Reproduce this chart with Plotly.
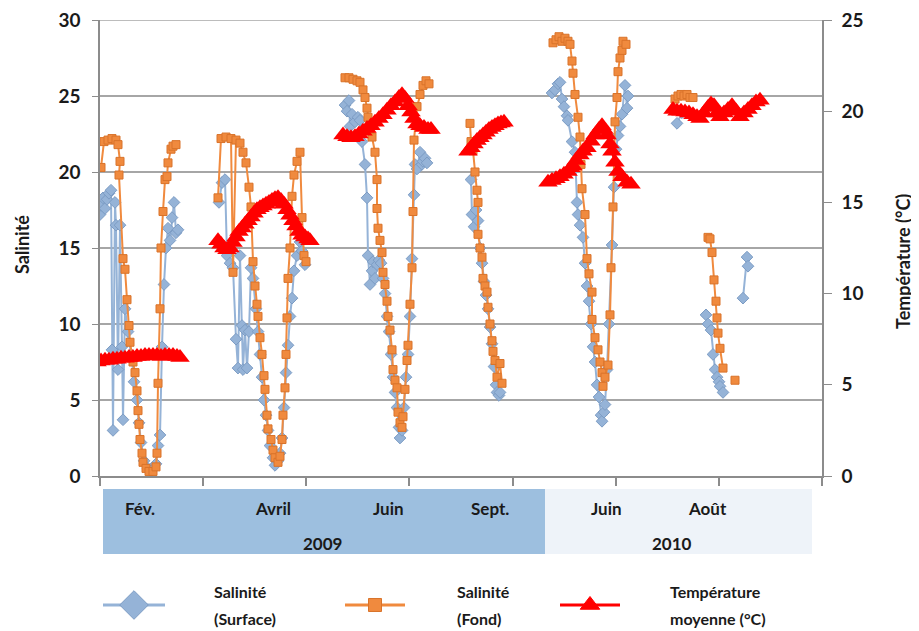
import plotly.graph_objects as go

# ---------------- data (x = position along the sampling axis) ----------------
# Salinité (Surface)
surf_x = [100,101,103,105,107,109,111,112,113,115,116,118,120,122,123,125,128,131,134,137,139,141,144,148,152,156,158,160,162,164,166,168,170,172,174,176,178,None,
          219,222,225,227,230,233,236,238,240,242,243,245,247,249,251,253,256,258,260,262,264,266,268,270,273,275,278,280,282,284,286,288,290,292,294,297,300,302,305,None,
          345,347,349,350,352,355,358,360,362,365,367,368,370,372,373,375,377,379,381,383,385,387,389,391,393,395,397,399,400,402,404,406,408,410,412,414,415,417,420,422,423,425,427,None,
          471,472,474,476,478,480,482,484,486,488,490,492,494,496,497,499,500,None,
          552,555,558,560,562,564,567,568,572,575,577,578,580,583,585,587,589,591,593,595,597,599,601,602,604,605,607,609,612,614,616,618,620,622,625,627,628,None,
          677,682,None,
          706,708,711,713,715,717,719,720,723,None,
          743,747,748]
surf_y = [17.2,17.8,18.3,17.6,18.2,18.6,18.8,8.3,3.0,18.0,16.5,7.0,16.5,8.5,3.7,11.0,9.5,8.0,6.2,5.0,3.5,2.2,1.0,0.5,0.4,0.8,2.0,2.7,8.5,12.6,15.0,16.3,15.5,17.0,18.0,16.0,16.2,None,
          18.0,19.3,19.5,14.5,14.0,13.7,9.0,7.1,14.5,9.9,7.0,9.6,7.1,9.5,13.7,13.0,11.0,9.5,8.0,6.5,5.0,4.0,3.0,2.0,1.2,0.7,1.0,1.5,2.5,4.5,6.8,8.6,10.5,11.7,13.5,14.5,15.4,14.8,13.9,None,
          24.4,24.0,24.7,23.0,23.8,23.3,23.6,23.4,22.0,20.5,18.3,14.5,12.6,13.5,14.1,13.0,13.9,14.2,14.0,13.0,12.0,10.5,9.5,8.0,6.5,5.5,4.5,3.2,2.5,3.0,4.5,6.5,8.0,10.5,14.3,18.5,20.5,20.2,21.3,20.5,20.7,20.9,20.6,None,
          19.5,17.2,16.4,17.5,16.8,15.0,14.0,12.8,11.9,11.0,9.8,8.7,7.2,6.0,5.5,5.3,5.5,None,
          25.2,25.4,25.8,25.9,24.8,24.3,23.7,23.4,22.0,21.3,18.0,17.2,16.5,15.7,14.0,12.5,11.5,10.0,8.5,7.5,6.0,5.2,4.0,3.6,4.2,4.7,7.0,10.0,15.2,19.0,21.5,22.4,23.0,23.8,25.7,24.2,25.0,None,
          23.2,23.9,None,
          10.6,10.0,9.6,8.0,7.0,6.5,6.2,5.9,5.5,None,
          11.7,14.4,13.8]

# Salinité (Fond)
fond_x = [101,104,108,112,116,118,120,119,123,125,127,129,130,133,135,137,138,139,140,142,143,146,149,153,156,157,158,160,161,163,165,167,168,171,173,176,None,
          218,221,226,231,233,236,240,243,246,249,251,253,255,257,258,260,262,264,265,267,268,271,273,275,278,280,282,283,285,286,287,288,290,292,294,297,300,302,304,306,None,
          345,349,353,357,360,363,365,367,368,370,372,375,377,377,378,380,382,383,385,387,388,390,392,393,395,397,398,400,402,403,405,407,408,410,412,413,414,417,420,423,426,429,None,
          470,471,473,475,477,478,478,480,482,483,485,487,488,490,492,493,495,497,500,502,None,
          553,556,559,562,565,568,570,572,573,575,578,580,581,582,585,587,589,592,592,595,598,600,602,603,605,608,610,611,613,615,617,618,620,622,623,626,None,
          675,678,681,684,687,690,693,None,
          708,710,712,714,716,717,718,720,723,None,
          735]
fond_y = [20.3,22.0,22.1,22.2,22.1,21.8,20.7,19.8,14.3,13.6,11.6,9.9,8.8,7.5,6.8,5.6,4.3,3.4,2.4,1.5,0.9,0.5,0.3,0.3,0.6,1.5,6.1,11.0,15.0,17.4,19.5,19.7,20.6,21.5,21.7,21.8,None,
          18.3,22.2,22.3,22.2,13.4,22.1,21.9,21.3,20.6,19.0,17.7,14.1,12.5,11.3,10.5,9.1,8.0,6.6,5.7,4.0,3.1,2.4,1.7,1.2,0.9,1.3,2.4,4.0,5.8,8.0,10.4,13.0,15.0,18.4,19.8,20.7,21.3,17.0,14.5,14.1,None,
          26.2,26.2,26.1,26.0,25.9,25.4,24.9,24.2,23.6,22.8,22.3,21.3,19.5,17.6,16.3,15.5,14.7,13.4,12.6,11.5,10.5,9.6,8.3,7.0,6.3,5.8,4.2,3.5,3.2,3.9,5.7,7.6,8.6,11.3,13.7,17.4,22.1,24.3,25.1,25.7,26.0,25.8,None,
          23.2,22.0,21.4,20.0,18.8,18.0,15.9,15.0,14.4,13.0,12.5,12.1,11.1,10.0,8.9,8.2,7.6,6.5,7.4,6.1,None,
          28.5,28.7,28.9,28.6,28.8,28.6,28.4,27.3,26.5,25.1,23.6,22.3,20.5,18.9,17.2,14.3,13.3,12.1,10.3,9.1,8.3,7.5,6.8,5.9,6.5,7.3,10.6,13.7,17.7,23.3,24.9,26.6,27.5,28.0,28.6,28.4,None,
          24.8,25.0,25.1,25.0,25.1,24.9,24.9,None,
          15.7,15.6,14.7,12.9,11.5,10.4,9.4,8.4,7.1,None,
          6.3]

# Température moyenne (°C)
temp_x = [97,101,105,109,113,117,121,125,129,133,137,141,145,149,153,157,161,165,169,173,177,180,None,
          218,221,224,227,230,233,236,239,242,245,248,251,254,257,260,263,266,269,272,275,278,281,284,287,290,293,296,299,302,305,308,310,None,
          343,347,351,355,359,363,367,371,375,379,383,387,391,395,399,402,405,408,411,414,417,420,424,428,431,None,
          468,471,474,477,480,483,486,489,492,495,498,501,504,None,
          548,552,556,560,564,568,571,573,576,580,583,587,591,595,599,602,604,607,610,612,615,618,622,627,631,None,
          673,677,681,685,689,693,697,700,704,708,711,714,717,720,724,728,732,736,740,744,748,752,756,760]
temp_y = [6.25,6.3,6.35,6.35,6.4,6.4,6.45,6.45,6.5,6.5,6.55,6.55,6.6,6.6,6.6,6.6,6.55,6.6,6.6,6.6,6.55,6.5,None,
          12.9,12.7,12.5,12.4,12.5,12.8,13.1,13.4,13.6,13.8,14.0,14.2,14.4,14.6,14.7,14.8,14.9,15.0,15.1,15.2,15.25,15.1,14.9,14.6,14.3,14.0,13.7,13.4,13.2,13.1,13.0,12.9,None,
          18.7,18.6,18.55,18.6,18.75,18.9,19.05,19.2,19.4,19.6,19.8,20.05,20.3,20.5,20.75,20.9,20.7,20.3,19.95,19.6,19.3,19.2,19.1,19.0,19.0,None,
          17.8,18.0,18.2,18.4,18.55,18.7,18.85,19.0,19.1,19.2,19.3,19.35,19.4,None,
          16.1,16.2,16.3,16.4,16.55,16.7,16.9,17.0,17.3,17.6,17.8,18.0,18.35,18.7,19.0,19.2,19.0,18.7,18.2,17.8,17.2,16.7,16.4,16.1,16.0,None,
          20.1,20.0,20.0,19.95,19.9,19.8,19.7,19.6,19.9,20.2,20.4,20.3,19.9,19.7,19.9,20.1,20.3,20.0,19.7,19.9,20.1,20.3,20.5,20.6]

# category labels under the axis
month_labels = ["Fév.", "Avril", "Juin", "Sept.", "Juin", "Août"]
month_pos = [140, 273, 388, 490, 606, 707]
year_labels = ["2009", "2010"]
year_pos = [322, 672]
year_spans = [(103, 545), (545, 812)]
year_colors = ["#9DBFDF", "#EEF3F9"]

legend_names = [("Salinité", "(Surface)"), ("Salinité", "(Fond)"), ("Température", "moyenne (°C)")]

# ---------------- styling ----------------
FONT = "Lato"
TXT = "#1a1a1a"
BLUE = "#95B3D7"
BLUE_EDGE = "#7C9CC4"
ORANGE = "#F08A3E"
ORANGE_EDGE = "#D9732A"
RED = "#FF0000"
GRID = "#A6A6A6"
AXC = "#8C8C8C"

OFF = 8                      # page body margin of the html page
W, H = 919 - OFF, 631 - OFF
ML, MT, MB = 100 - OFF, 20 - OFF, 2
MR = W - (822 - OFF)
PW = W - ML - MR
PH = H - MT - MB
def py(p):  # screen row -> paper fraction
    return (H - MB - (p - OFF)) / PH
def px(p):  # screen column -> paper fraction
    return (p - OFF - ML) / PW

fig = go.Figure()

fig.add_trace(go.Scatter(x=surf_x, y=surf_y, mode="lines+markers", connectgaps=False,
                         line=dict(color=BLUE, width=2),
                         marker=dict(symbol="diamond", size=9, color=BLUE, line=dict(color=BLUE_EDGE, width=1)),
                         showlegend=False))
fig.add_trace(go.Scatter(x=fond_x, y=fond_y, mode="lines+markers", connectgaps=False,
                         line=dict(color=ORANGE, width=2),
                         marker=dict(symbol="square", size=8, color=ORANGE, line=dict(color=ORANGE_EDGE, width=1)),
                         showlegend=False))
fig.add_trace(go.Scatter(x=temp_x, y=temp_y, mode="lines+markers", connectgaps=False, yaxis="y2",
                         line=dict(color=RED, width=3),
                         marker=dict(symbol="triangle-up", size=17, color=RED),
                         showlegend=False))

# legend samples on a hidden helper axis (range in screen pixels)
leg_x = [(103, 134, 165), (345, 375, 405), (560, 590, 620)]
leg_style = [(BLUE, "diamond", 22, BLUE_EDGE), (ORANGE, "square", 13, ORANGE_EDGE), (RED, "triangle-up", 17, RED)]
LEG_ROW = 605
for (x0, xm, x1), (c, sym, sz, edge) in zip(leg_x, leg_style):
    fig.add_trace(go.Scatter(x=[x0, x1], y=[LEG_ROW, LEG_ROW], mode="lines", line=dict(color=c, width=3),
                             xaxis="x3", yaxis="y3", showlegend=False, hoverinfo="skip"))
    fig.add_trace(go.Scatter(x=[xm], y=[LEG_ROW], mode="markers",
                             marker=dict(symbol=sym, size=sz, color=c, line=dict(color=edge, width=1)),
                             xaxis="x3", yaxis="y3", showlegend=False, hoverinfo="skip"))

shapes = []
for (a, b), col in zip(year_spans, year_colors):
    shapes.append(dict(type="rect", xref="x", yref="paper", x0=a, x1=b, y0=py(554), y1=py(489),
                       fillcolor=col, line=dict(width=0), layer="below"))
# top gridline (value 30)
shapes.append(dict(type="line", xref="paper", yref="y", x0=0, x1=1, y0=30, y1=30,
                   line=dict(color=GRID, width=1.5), layer="below"))

ann = []
lab_font = dict(family=FONT, size=17, color=TXT, weight="bold")
for lab, pos in zip(month_labels, month_pos):
    ann.append(dict(text=lab, x=pos, y=py(508), xref="x", yref="paper", showarrow=False,
                    xanchor="center", yanchor="middle", font=lab_font))
for lab, pos in zip(year_labels, year_pos):
    ann.append(dict(text=lab, x=pos, y=py(543), xref="x", yref="paper", showarrow=False,
                    xanchor="center", yanchor="middle", font=lab_font))
for (l1, l2), tx in zip(legend_names, [212, 455, 668]):
    for txt, yy in ((l1, 591), (l2, 618)):
        ann.append(dict(text=txt, x=px(tx), y=py(yy), xref="paper", yref="paper",
                        xanchor="left", yanchor="middle", showarrow=False,
                        font=dict(family=FONT, size=16, color=TXT, weight="bold")))
ann.append(dict(text="Salinité", x=px(22), y=py(245), xref="paper", yref="paper",
                xanchor="center", yanchor="middle",
                textangle=-90, showarrow=False, font=dict(family=FONT, size=18, color=TXT, weight="bold")))
ann.append(dict(text="Température (°C)", x=px(903), y=py(262), xref="paper", yref="paper",
                xanchor="center", yanchor="middle",
                textangle=-90, showarrow=False, font=dict(family=FONT, size=18, color=TXT, weight="bold")))

tick_step = (822 - 100) / 7
fig.update_layout(
    width=W, height=H, margin=dict(l=ML, r=MR, t=MT, b=MB, autoexpand=False),
    paper_bgcolor="white", plot_bgcolor="white",
    font=dict(family=FONT, color=TXT),
    xaxis=dict(range=[100, 822], domain=[0, 1], anchor="y",
               tickvals=[100 + i * tick_step for i in range(8)], showticklabels=False,
               ticks="outside", ticklen=8, tickcolor=AXC, tickwidth=1.5,
               showline=True, linecolor=AXC, linewidth=1.5, showgrid=False, zeroline=False),
    yaxis=dict(range=[0, 30], domain=[py(476), 1], dtick=5, showgrid=True, gridcolor=GRID, gridwidth=1.5,
               showline=True, linecolor=AXC, linewidth=1.5, ticks="outside", ticklen=6,
               tickcolor=AXC, zeroline=False, ticklabeloverflow="allow", ticklabelstandoff=8,
               tickfont=dict(family=FONT, size=19, color=TXT, weight="bold")),
    yaxis2=dict(range=[0, 25], overlaying="y", side="right", anchor="x", dtick=5, showgrid=False,
                showline=True, linecolor=AXC, linewidth=1.5, ticks="outside", ticklen=8,
                tickcolor=AXC, zeroline=False, ticklabeloverflow="allow", ticklabelstandoff=6,
                tickfont=dict(family=FONT, size=19, color=TXT, weight="bold")),
    xaxis3=dict(range=[OFF + ML, OFF + ML + PW], domain=[0, 1], anchor="y3", visible=False),
    yaxis3=dict(range=[OFF + H - MB, OFF + H - MB - PH * 0.1], domain=[0, 0.1], anchor="x3", visible=False),
    shapes=shapes, annotations=ann,
)

fig.write_html("out.html")
